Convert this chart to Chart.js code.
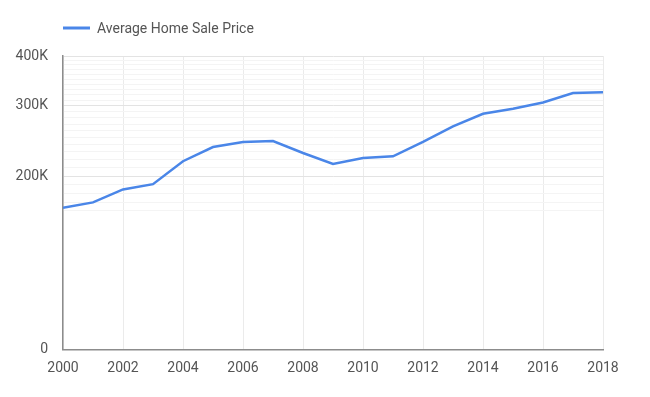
<!DOCTYPE html>
<html>
<head>
<meta charset="utf-8">
<script src="https://cdn.jsdelivr.net/npm/chart.js@4.4.1/dist/chart.umd.min.js"></script>
<style>
  html, body { margin: 0; padding: 0; background: #fff; }
  #wrap { width: 650px; height: 397px; position: relative; }
</style>
</head>
<body>
<div id="wrap"><canvas id="priceChart"></canvas></div>
<script>
const years = [2000, 2001, 2002, 2003, 2004, 2005, 2006, 2007, 2008, 2009,
               2010, 2011, 2012, 2013, 2014, 2015, 2016, 2017, 2018];
const avgPrice = [163500, 169700, 184700, 190800, 218000, 236600, 243600, 245000, 228600, 214600,
                  222000, 224300, 243600, 266500, 286600, 295000, 306000, 323000, 324600];
const seriesName = 'Average Home Sale Price';

const yTickValues = [0, 200000, 300000, 400000];
const yTickLabels = ['0', '200K', '300K', '400K'];
const xTickValues = [2000, 2002, 2004, 2006, 2008, 2010, 2012, 2014, 2016, 2018];

// faint minor lines every 10K (as google draws them on the log part)
const yMinorValues = [];
for (let v = 160000; v < 400000; v += 10000) {
    if (!yTickValues.includes(v)) yMinorValues.push(v);
}

const LINE_BLUE = '#4a86e8';
const TEXT_GREY = '#555';

// mirror-log: linear below the first tick, log10 above it
const LOG_START = 200000;
const mlog = v => v < LOG_START ? v / LOG_START / Math.LN10 : 1 / Math.LN10 + Math.log10(v / LOG_START);
const mlogInv = t => t < 1 / Math.LN10 ? t * Math.LN10 * LOG_START : LOG_START * Math.pow(10, t - 1 / Math.LN10);

class MirrorLogScale extends Chart.LinearScale {
    buildTicks() {
        return [...yTickValues, ...yMinorValues].sort((a, b) => a - b).map(v => ({ value: v }));
    }
    getPixelForValue(value) {
        const t0 = mlog(this.min), t1 = mlog(this.max);
        return this.getPixelForDecimal((mlog(value) - t0) / (t1 - t0));
    }
    getValueForPixel(pixel) {
        const t0 = mlog(this.min), t1 = mlog(this.max);
        return mlogInv(t0 + this.getDecimalForPixel(pixel) * (t1 - t0));
    }
}
MirrorLogScale.id = 'mirrorLog';
MirrorLogScale.defaults = Chart.LinearScale.defaults;
Chart.register(MirrorLogScale);

// legend drawn by hand so it lines up with the plot's left edge
const topLegend = {
    id: 'topLegend',
    afterDraw(chart) {
        const ctx = chart.ctx;
        const x = chart.chartArea.left;
        ctx.save();
        ctx.strokeStyle = LINE_BLUE;
        ctx.lineWidth = 3;
        ctx.beginPath();
        ctx.moveTo(x, 28);
        ctx.lineTo(x + 27, 28);
        ctx.stroke();
        ctx.fillStyle = TEXT_GREY;
        ctx.font = '14px Roboto';
        ctx.textBaseline = 'middle';
        ctx.fillText(seriesName, x + 34, 29);
        ctx.restore();
    }
};

const tickFont = { family: 'Roboto', size: 14 };

new Chart(document.getElementById('priceChart'), {
    type: 'line',
    data: {
        datasets: [{
            label: seriesName,
            data: years.map((yr, i) => ({ x: yr, y: avgPrice[i] })),
            borderColor: LINE_BLUE,
            backgroundColor: LINE_BLUE,
            borderWidth: 2.5,
            pointRadius: 0,
            tension: 0,
            fill: false
        }]
    },
    options: {
        responsive: true,
        maintainAspectRatio: false,
        animation: false,
        layout: { padding: { top: 56, right: 47, left: 0, bottom: 0 } },
        scales: {
            x: {
                type: 'linear',
                min: 2000,
                max: 2018,
                afterBuildTicks: (scale) => { scale.ticks = xTickValues.map(v => ({ value: v })); },
                afterFit: (scale) => { scale.height = 47.5; },
                ticks: {
                    autoSkip: false,
                    maxRotation: 0,
                    padding: 11,
                    color: TEXT_GREY,
                    font: tickFont,
                    callback: v => String(v)
                },
                grid: { color: '#ebebeb', drawTicks: false },
                border: { color: '#8c8c8c', width: 1.5 }
            },
            y: {
                type: 'mirrorLog',
                min: 0,
                max: 400000,
                afterFit: (scale) => { scale.width = 63; },
                ticks: {
                    autoSkip: false,
                    padding: 15,
                    color: TEXT_GREY,
                    font: tickFont,
                    callback: v => {
                        const i = yTickValues.indexOf(v);
                        return i >= 0 ? yTickLabels[i] : '';
                    }
                },
                grid: {
                    drawTicks: false,
                    color: ctx => yTickValues.includes(ctx.tick && ctx.tick.value) ? '#e3e3e3' : '#f4f4f4'
                },
                border: { color: '#8c8c8c', width: 1.5 }
            }
        },
        plugins: {
            legend: { display: false },
            tooltip: { enabled: false }
        }
    },
    plugins: [topLegend]
});
</script>
</body>
</html>
